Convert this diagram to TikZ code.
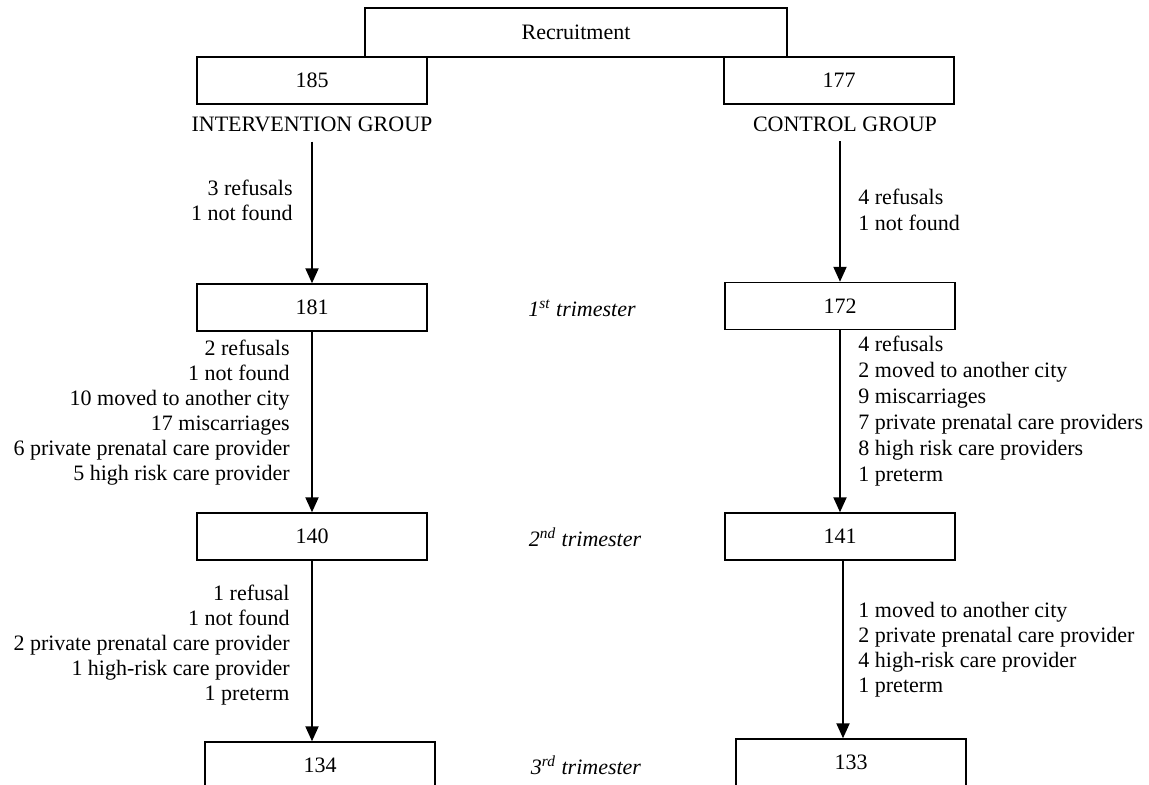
\documentclass[tikz,border=0pt]{standalone}
\usepackage{fontspec}
\setmainfont{Liberation Serif}
\usetikzlibrary{arrows.meta,positioning}

\begin{document}
\begin{tikzpicture}[x=0.5pt, y=-0.5pt,
  every node/.style={font=\fontsize{11}{12.5}\selectfont},
  box/.style={draw, line width=0.7pt, minimum width=115pt, minimum height=23.5pt, inner sep=0pt},
  note/.style={inner sep=0pt},
  trim/.style={font=\fontsize{11}{12.5}\selectfont\itshape},
  flow/.style={-{Triangle[length=7.5pt,width=6.5pt]}, line width=1pt}]
  \clip (0,0) rectangle (1149,785);
  \fill[white] (0,0) rectangle (1149,785);
  % top of the chart
  \node[box, minimum width=211pt, minimum height=24.5pt] (recr) at (576,32.5) {Recruitment};
  \node[box] (b185) at (312,80.5) {185};
  \node[box] (b177) at (839,80.5) {177};
  \node (igrp) at (312,124) {INTERVENTION GROUP};
  \node (cgrp) at (845,124) {CONTROL GROUP};

  % trimester boxes
  \node[box] (b181) at (312,307.5) {181};
  \node[box] (b172) at (840,306) {172};
  \node[box] (b140) at (312,536.5) {140};
  \node[box] (b141) at (840,536.5) {141};
  \node[box] (b134) at (320,765.5) {134};
  \node[box] (b133) at (851,762.5) {133};
  \node[trim] (t1) at (582,308) {1\textsuperscript{st} trimester};
  \node[trim] (t2) at (585,537) {2\textsuperscript{nd} trimester};
  \node[trim] (t3) at (586,765) {3\textsuperscript{rd} trimester};

  % losses
  \node[note, anchor=east, align=right] (li1) at (293,200)
    {3 refusals\\1 not found};
  \node[note, anchor=west, align=left, font=\fontsize{11}{13}\selectfont] (lc1) at (858,210)
    {4 refusals\\1 not found};
  \node[note, anchor=east, align=right] (li2) at (290,413)
    {2 refusals\\1 not found\\10 moved to another city\\17 miscarriages\\6 private prenatal care provider\\5 high risk care provider};
  \node[note, anchor=west, align=left, font=\fontsize{11}{13}\selectfont] (lc2) at (858,411.5)
    {4 refusals\\2 moved to another city\\9 miscarriages\\7 private prenatal care providers\\8 high risk care providers\\1 preterm};
  \node[note, anchor=east, align=right] (li3) at (290,645)
    {1 refusal\\1 not found\\2 private prenatal care provider\\1 high-risk care provider\\1 preterm};
  \node[note, anchor=west, align=left] (lc3) at (858,650)
    {1 moved to another city\\2 private prenatal care provider\\4 high-risk care provider\\1 preterm};

  \draw[flow, shorten <=1.5pt] (igrp.south) -- (b181.north);
  \draw[flow, shorten <=1.5pt] (cgrp.south -| b172.north) -- (b172.north);
  \draw[flow] (b181.south) -- (b140.north);
  \draw[flow] (b172.south) -- (b141.north);
  \draw[flow] (b140.south) -- (b140.south |- b134.north);
  \draw[flow] ([xshift=1.5pt]b141.south) -- ([xshift=1.5pt]b141.south |- b133.north);
\end{tikzpicture}
\end{document}
